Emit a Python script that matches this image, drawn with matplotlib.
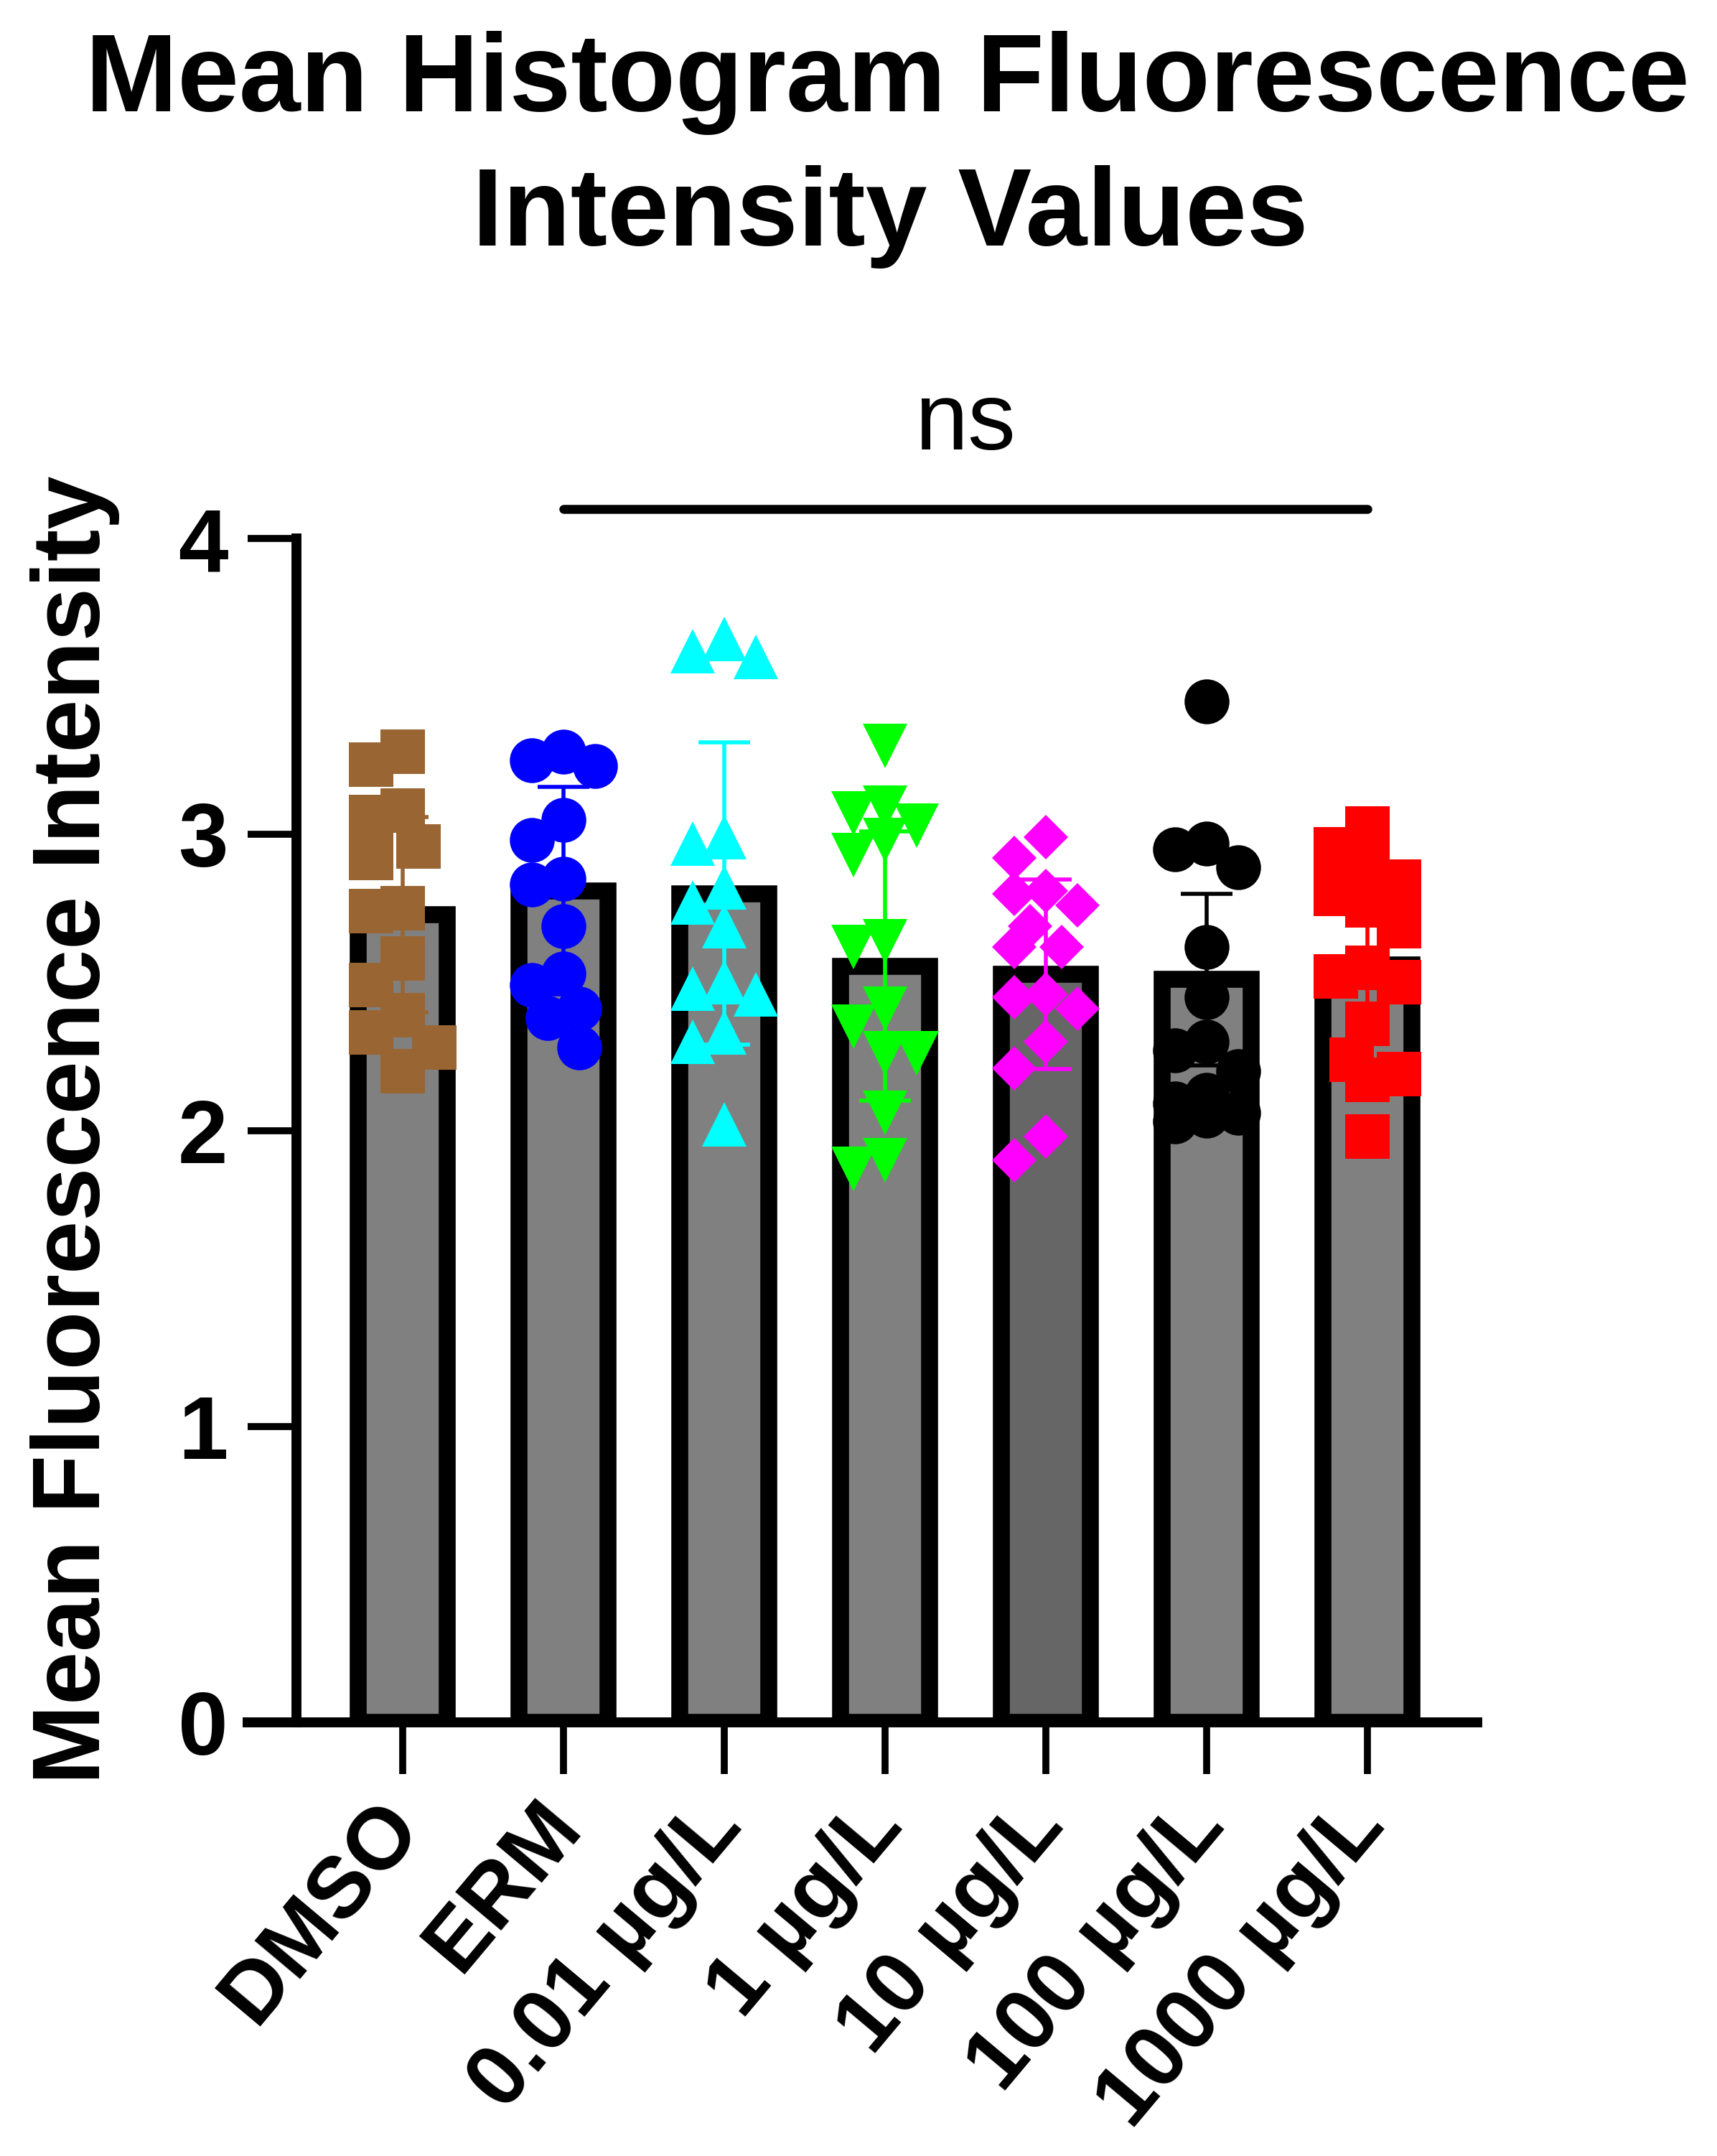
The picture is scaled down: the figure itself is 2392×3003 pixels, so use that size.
import matplotlib
matplotlib.use("Agg")
import matplotlib.pyplot as plt
import matplotlib.transforms as mtransforms
import numpy as np

plt.rcParams['font.family'] = ['Liberation Sans', 'DejaVu Sans']

# ---------------- data ----------------
categories = ["DMSO", "ERM", "0.01 µg/L", "1 µg/L", "10 µg/L", "100 µg/L", "1000 µg/L"]

dmso_vals = [3.28, 3.235, 3.08, 3.06, 2.96, 2.92, 2.75, 2.74, 2.58, 2.49, 2.39, 2.33, 2.28, 2.20]
erm_vals = [3.28, 3.25, 3.23, 3.05, 2.98, 2.85, 2.83, 2.69, 2.53, 2.49, 2.41, 2.38, 2.28]
c001_vals = [3.66, 3.62, 3.60, 2.99, 2.97, 2.82, 2.77, 2.69, 2.50, 2.48, 2.46, 2.33, 2.30, 2.02]
c1_vals = [3.30, 3.09, 3.07, 3.03, 2.98, 2.93, 2.64, 2.62, 2.41, 2.35, 2.26, 2.26, 2.06, 1.90, 1.87]
c10_vals = [2.99, 2.92, 2.81, 2.80, 2.76, 2.69, 2.62, 2.62, 2.46, 2.45, 2.41, 2.30, 2.21, 1.98, 1.90]
c100_vals = [3.45, 2.97, 2.95, 2.89, 2.62, 2.45, 2.30, 2.27, 2.20, 2.12, 2.09, 2.06, 2.05, 2.03]
c1000_vals = [3.02, 2.95, 2.87, 2.84, 2.80, 2.76, 2.69, 2.55, 2.52, 2.50, 2.36, 2.24, 2.19, 2.17, 1.98]

bar_means = [2.73, 2.81, 2.80, 2.555, 2.527, 2.51, 2.56]
bar_sds = [0.33, 0.35, 0.51, 0.455, 0.32, 0.29, 0.33]

point_colors = ["#996633", "#0000FF", "#00FFFF", "#00FF00", "#FF00FF", "#000000", "#FF0000"]
point_markers = ["s", "o", "^", "v", "D", "o", "s"]
bar_fills = ["#808080", "#808080", "#808080", "#808080", "#666666", "#808080", "#808080"]

yticks = [0, 1, 2, 3, 4]
sig_label = "ns"

groups = [dmso_vals, erm_vals, c001_vals, c1_vals, c10_vals, c100_vals, c1000_vals]

# ---------------- figure ----------------
W, H = 2392, 3003
fig = plt.figure(figsize=(W / 100, H / 100), dpi=100)

ax_left, ax_right = 345, 2058
ax_top, ax_bot = 750, 2399
ax = fig.add_axes([ax_left / W, 1 - ax_bot / H, (ax_right - ax_left) / W, (ax_bot - ax_top) / H])

first_center = 561
spacing = 224.0
xmin = -(first_center - ax_left) / spacing
xmax = (len(categories) - 1) + (ax_right - (first_center + spacing * (len(categories) - 1))) / spacing
ax.set_xlim(xmin, xmax)
ax.set_ylim(0, 4)

x = np.arange(len(categories))
ax.bar(x, bar_means, width=0.55, color=bar_fills, edgecolor="black", linewidth=17, zorder=2)

for i in range(len(categories)):
    ax.errorbar(x[i], bar_means[i], yerr=bar_sds[i], fmt="none", ecolor=point_colors[i],
                elinewidth=4, capsize=26, capthick=4, zorder=3)

# beeswarm-like horizontal spread (pixel based)
px_per_x = spacing
px_per_y = (ax_bot - ax_top) / 4.0
step_px = 22.0
dmin_px = 52.0


def swarm(vals):
    order = np.argsort(vals)[::-1]
    placed = []
    offs = np.zeros(len(vals))
    cands = [0, -1, 1, -2, 2]
    for idx in order:
        yv = vals[idx] * px_per_y
        best, bestd = 0, -1
        chosen = None
        for k in cands:
            xv = k * step_px
            d = min([np.hypot(xv - px, yv - py) for px, py in placed], default=1e9)
            if d >= dmin_px:
                chosen = k
                break
            if d > bestd:
                bestd, best = d, k
        if chosen is None:
            chosen = best
        placed.append((chosen * step_px, yv))
        offs[idx] = chosen * step_px / px_per_x
    return offs


for i, vals in enumerate(groups):
    vals = np.array(vals)
    offs = swarm(vals)
    ms = 32 if point_markers[i] == "D" else 45
    ax.plot(x[i] + offs, vals, linestyle="none", marker=point_markers[i], markersize=ms,
            markerfacecolor=point_colors[i], markeredgewidth=0, zorder=4, clip_on=False)

# spines
for s in ["top", "right"]:
    ax.spines[s].set_visible(False)
ax.spines["left"].set_linewidth(10)
ax.spines["bottom"].set_linewidth(10)
ax.spines["left"].set_position(("axes", (413 - ax_left) / (ax_right - ax_left)))
ax.spines["left"].set_bounds(0, 4)

ax.set_yticks(yticks)
ax.set_yticklabels([str(t) for t in yticks])
ax.tick_params(axis="y", direction="out", length=49, width=7, pad=20, labelsize=90)
ax.tick_params(axis="x", direction="out", length=52, width=7, pad=12, labelsize=87)
for lab in ax.get_yticklabels():
    lab.set_fontweight("bold")

ax.set_xticks(x)
ax.set_xticklabels(categories, rotation=50, ha="right", va="top", rotation_mode="anchor", fontweight="bold")
offset = mtransforms.ScaledTranslation(-40 / 100, 0, fig.dpi_scale_trans)
for lab in ax.get_xticklabels():
    lab.set_transform(lab.get_transform() + offset)

# significance line
ax.plot([1, 6], [4.10, 4.10], color="black", linewidth=9, solid_capstyle="round", clip_on=False)
ax.text(3.5, 4.30, sig_label, ha="center", va="baseline", fontsize=96)

# y label
fig.text(105 / W, 1 - 1574 / H, "Mean Fluorescence Intensity", rotation=90, ha="center", va="center",
         fontsize=96, fontweight="bold")

# title
fig.text(1236 / W, 1 - 155 / H, "Mean Histogram Fluorescence", ha="center", va="baseline",
         fontsize=111, fontweight="bold")
fig.text(1240 / W, 1 - 342 / H, "Intensity Values", ha="center", va="baseline",
         fontsize=111, fontweight="bold")

fig.savefig("out.png", dpi=100)
